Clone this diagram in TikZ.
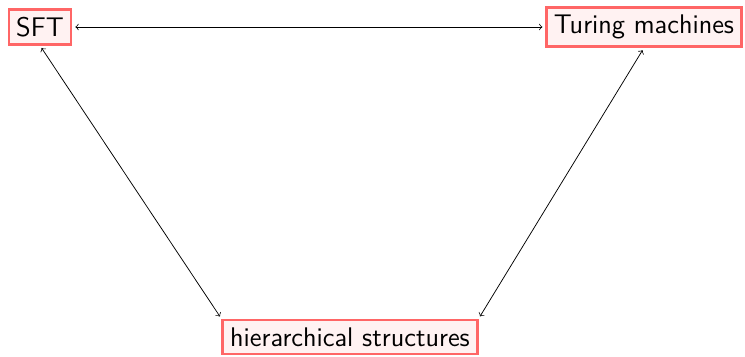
\documentclass[tikz,border=0pt]{standalone}
\usetikzlibrary{arrows}
\begin{document}
\begin{tikzpicture}[x=0.5348pt,y=-0.5348pt,
  box/.style={draw=red!60,fill=red!5,line width=1.3pt,font=\sffamily\Large,inner sep=4pt},
  link/.style={<->,shorten <=1.5pt,shorten >=1.5pt}]
\useasboundingbox (0,0) rectangle (745,357);
\node[box] (sft) at (40,27) {SFT};
\node[box] (tm) at (644,27) {Turing machines};
\node[box] (hs) at (350,337) {hierarchical structures};
\draw[link] (sft) -- (tm);
\draw[link] (sft.south) -- (hs.north west);
\draw[link] (tm.south) -- (hs.north east);
\end{tikzpicture}
\end{document}
